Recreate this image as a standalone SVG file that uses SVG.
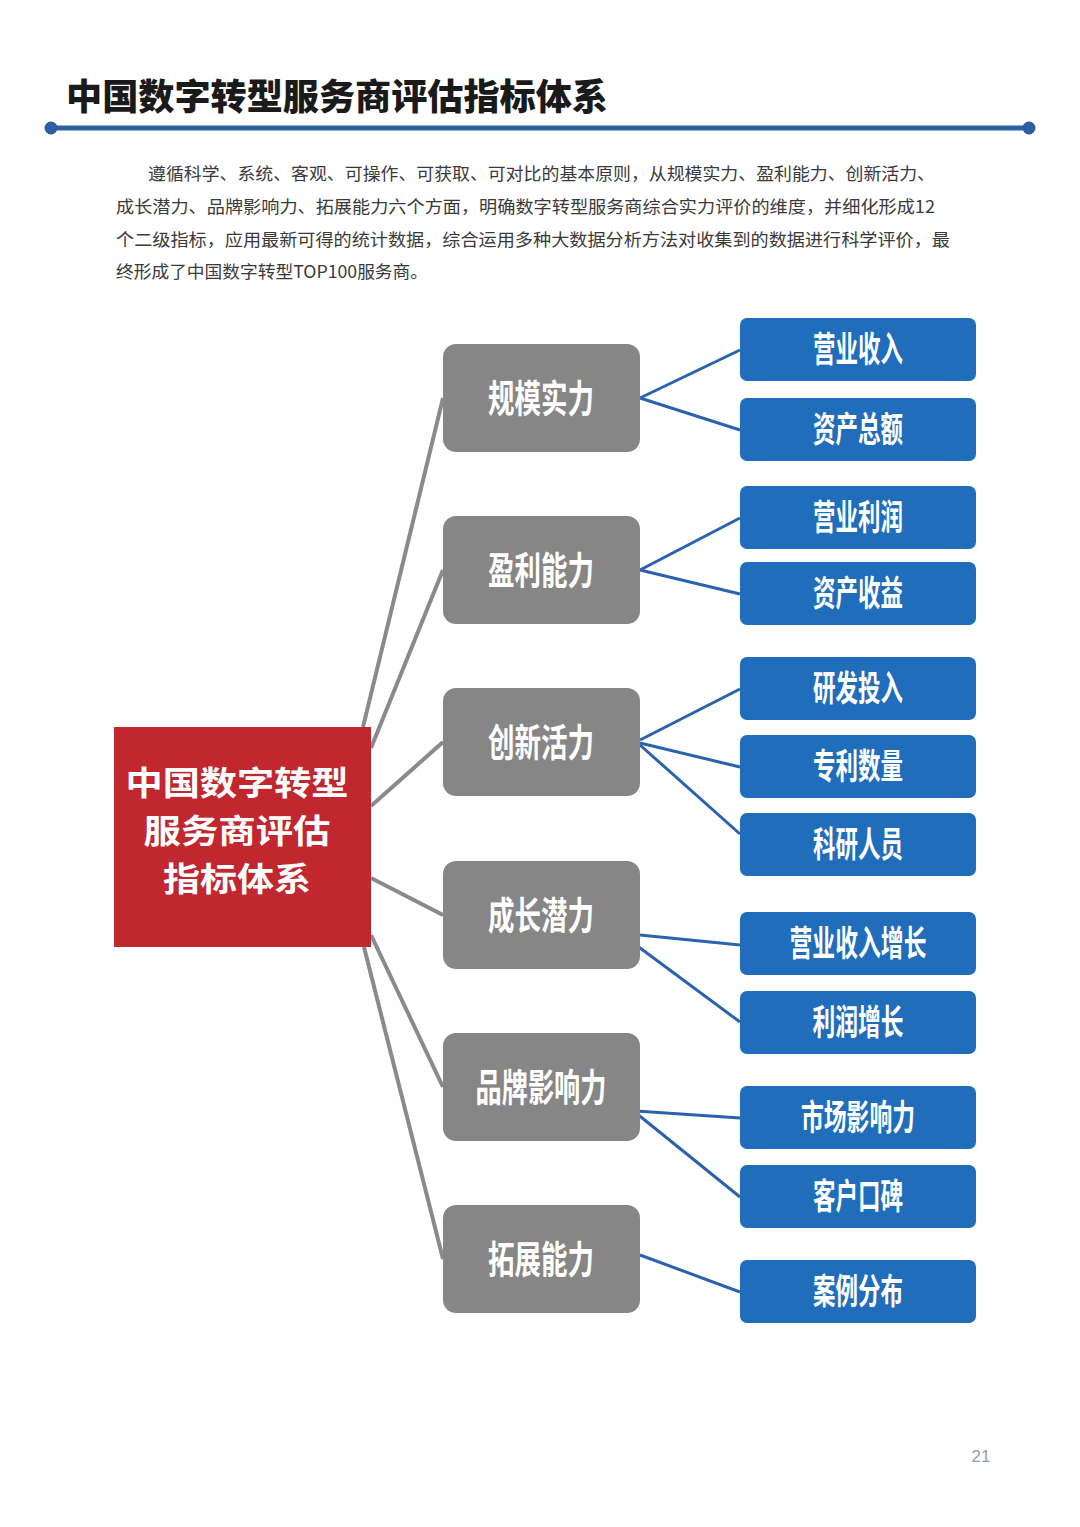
<svg xmlns="http://www.w3.org/2000/svg" width="1080" height="1527" viewBox="0 0 1080 1527">
<defs>
<style>
.cjk{font-family:"Noto Sans CJK SC","Noto Sans",sans-serif;}
.title{font-size:36px;font-weight:900;fill:#1a1a1a;}
.para{font-size:17.5px;fill:#3a3a3a;}
.gray{fill:#868686;}
.blue{fill:#1f6dbb;}
.gt{font-size:38px;font-weight:700;fill:#ffffff;text-anchor:middle;}
.bt{font-size:35px;font-weight:700;fill:#ffffff;text-anchor:middle;}
.rt{font-size:33px;font-weight:700;fill:#ffffff;text-anchor:middle;}
.gl{stroke:#8a8a8a;stroke-width:4;fill:none;}
.bl{stroke:#2a62ad;stroke-width:3;fill:none;}
</style>
</defs>
<rect width="1080" height="1527" fill="#ffffff"/>

<g id="header">
<text class="cjk title" x="66" y="110" textLength="542" lengthAdjust="spacingAndGlyphs">中国数字转型服务商评估指标体系</text>
<line x1="50" y1="128" x2="1030" y2="128" stroke="#2d5fa3" stroke-width="5"/>
<circle cx="51" cy="128" r="6.5" fill="#2d5fa3"/>
<circle cx="1029" cy="128" r="6.5" fill="#2d5fa3"/>
</g>

<g id="intro" class="cjk para">
<text x="148" y="180" textLength="787" lengthAdjust="spacingAndGlyphs">遵循科学、系统、客观、可操作、可获取、可对比的基本原则，从规模实力、盈利能力、创新活力、</text>
<text x="116" y="213" textLength="819" lengthAdjust="spacingAndGlyphs">成长潜力、品牌影响力、拓展能力六个方面，明确数字转型服务商综合实力评价的维度，并细化形成12</text>
<text x="116" y="246" textLength="834" lengthAdjust="spacingAndGlyphs">个二级指标，应用最新可得的统计数据，综合运用多种大数据分析方法对收集到的数据进行科学评价，最</text>
<text x="116" y="278" textLength="312" lengthAdjust="spacingAndGlyphs">终形成了中国数字转型TOP100服务商。</text>
</g>

<g id="connectors">
<line class="gl" x1="363" y1="727" x2="443" y2="398"/>
<line class="gl" x1="371" y1="748" x2="443" y2="570"/>
<line class="gl" x1="371" y1="806" x2="443" y2="742"/>
<line class="gl" x1="371" y1="878" x2="443" y2="915"/>
<line class="gl" x1="371" y1="935" x2="443" y2="1087"/>
<line class="gl" x1="364" y1="947" x2="443" y2="1259"/>

<line class="bl" x1="640" y1="398" x2="740" y2="350"/>
<line class="bl" x1="640" y1="398" x2="740" y2="430"/>
<line class="bl" x1="640" y1="570" x2="740" y2="518"/>
<line class="bl" x1="640" y1="570" x2="740" y2="594"/>
<line class="bl" x1="640" y1="740" x2="740" y2="689"/>
<line class="bl" x1="640" y1="743" x2="740" y2="767"/>
<line class="bl" x1="640" y1="745" x2="740" y2="834"/>
<line class="bl" x1="640" y1="935" x2="740" y2="945"/>
<line class="bl" x1="636" y1="945" x2="740" y2="1022"/>
<line class="bl" x1="636" y1="1111" x2="740" y2="1118"/>
<line class="bl" x1="636" y1="1113" x2="740" y2="1197"/>
<line class="bl" x1="640" y1="1255" x2="740" y2="1292"/>
</g>

<g id="root">
<rect x="114" y="727" width="257" height="220" fill="#c1272f"/>
<text class="cjk rt" x="237" y="795" textLength="223" lengthAdjust="spacingAndGlyphs">中国数字转型</text>
<text class="cjk rt" x="237" y="843" textLength="187" lengthAdjust="spacingAndGlyphs">服务商评估</text>
<text class="cjk rt" x="237" y="891" textLength="148" lengthAdjust="spacingAndGlyphs">指标体系</text>
</g>

<g id="n-guimo"><rect class="gray" x="443" y="344" width="197" height="108" rx="13"/><text class="cjk gt" x="541" y="412" textLength="106" lengthAdjust="spacingAndGlyphs">规模实力</text></g>
<g id="n-yingli"><rect class="gray" x="443" y="516" width="197" height="108" rx="13"/><text class="cjk gt" x="541" y="584" textLength="106" lengthAdjust="spacingAndGlyphs">盈利能力</text></g>
<g id="n-chuangxin"><rect class="gray" x="443" y="688" width="197" height="108" rx="13"/><text class="cjk gt" x="541" y="756" textLength="106" lengthAdjust="spacingAndGlyphs">创新活力</text></g>
<g id="n-chengzhang"><rect class="gray" x="443" y="861" width="197" height="108" rx="13"/><text class="cjk gt" x="541" y="929" textLength="106" lengthAdjust="spacingAndGlyphs">成长潜力</text></g>
<g id="n-pinpai"><rect class="gray" x="443" y="1033" width="197" height="108" rx="13"/><text class="cjk gt" x="541" y="1101" textLength="131" lengthAdjust="spacingAndGlyphs">品牌影响力</text></g>
<g id="n-tuozhan"><rect class="gray" x="443" y="1205" width="197" height="108" rx="13"/><text class="cjk gt" x="541" y="1273" textLength="106" lengthAdjust="spacingAndGlyphs">拓展能力</text></g>

<g id="b1"><rect class="blue" x="740" y="318" width="236" height="63" rx="7"/><text class="cjk bt" x="858" y="362" textLength="90" lengthAdjust="spacingAndGlyphs">营业收入</text></g>
<g id="b2"><rect class="blue" x="740" y="398" width="236" height="63" rx="7"/><text class="cjk bt" x="858" y="442" textLength="90" lengthAdjust="spacingAndGlyphs">资产总额</text></g>
<g id="b3"><rect class="blue" x="740" y="486" width="236" height="63" rx="7"/><text class="cjk bt" x="858" y="530" textLength="90" lengthAdjust="spacingAndGlyphs">营业利润</text></g>
<g id="b4"><rect class="blue" x="740" y="562" width="236" height="63" rx="7"/><text class="cjk bt" x="858" y="606" textLength="90" lengthAdjust="spacingAndGlyphs">资产收益</text></g>
<g id="b5"><rect class="blue" x="740" y="657" width="236" height="63" rx="7"/><text class="cjk bt" x="858" y="701" textLength="90" lengthAdjust="spacingAndGlyphs">研发投入</text></g>
<g id="b6"><rect class="blue" x="740" y="735" width="236" height="63" rx="7"/><text class="cjk bt" x="858" y="779" textLength="90" lengthAdjust="spacingAndGlyphs">专利数量</text></g>
<g id="b7"><rect class="blue" x="740" y="813" width="236" height="63" rx="7"/><text class="cjk bt" x="858" y="857" textLength="90" lengthAdjust="spacingAndGlyphs">科研人员</text></g>
<g id="b8"><rect class="blue" x="740" y="912" width="236" height="63" rx="7"/><text class="cjk bt" x="858" y="956" textLength="137" lengthAdjust="spacingAndGlyphs">营业收入增长</text></g>
<g id="b9"><rect class="blue" x="740" y="991" width="236" height="63" rx="7"/><text class="cjk bt" x="858" y="1035" textLength="91" lengthAdjust="spacingAndGlyphs">利润增长</text></g>
<g id="b10"><rect class="blue" x="740" y="1086" width="236" height="63" rx="7"/><text class="cjk bt" x="858" y="1130" textLength="114" lengthAdjust="spacingAndGlyphs">市场影响力</text></g>
<g id="b11"><rect class="blue" x="740" y="1165" width="236" height="63" rx="7"/><text class="cjk bt" x="858" y="1209" textLength="90" lengthAdjust="spacingAndGlyphs">客户口碑</text></g>
<g id="b12"><rect class="blue" x="740" y="1260" width="236" height="63" rx="7"/><text class="cjk bt" x="858" y="1304" textLength="90" lengthAdjust="spacingAndGlyphs">案例分布</text></g>

<text x="981" y="1462" font-family="Liberation Sans, Arial, sans-serif" font-size="17" fill="#9a9a9a" text-anchor="middle">21</text>
</svg>
